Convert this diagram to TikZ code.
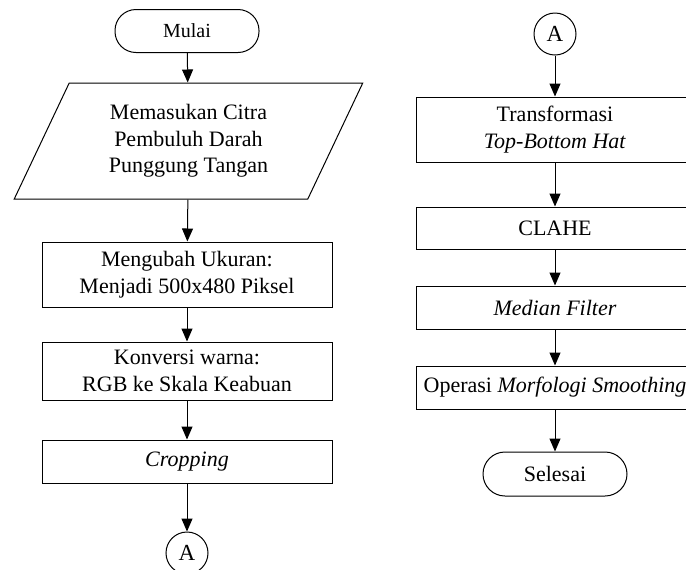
\documentclass[tikz,border=0pt]{standalone}
\usepackage{fontspec}
\setmainfont{Liberation Serif}
\usetikzlibrary{arrows.meta,positioning,shapes.geometric}
\tikzstyle{process}=[
  draw=black,
  rectangle,
  align=center,
  inner sep=0pt,
  line width=.5pt,
  font={\fontsize{11}{13.3}\selectfont},
]
\tikzstyle{terminal}=[
  draw=black,
  rectangle,
  rounded corners=10.5pt,
  inner sep=0pt,
  line width=.5pt,
  minimum width=72pt,
  minimum height=21.5pt,
]
\tikzstyle{io}=[
  draw=black,
  trapezium,
  trapezium left angle=63.4,
  trapezium right angle=116.6,
  trapezium stretches=true,
  align=center,
  inner sep=0pt,
  line width=.5pt,
  minimum width=174.5pt,
  minimum height=58pt,
  font={\fontsize{11}{13.3}\selectfont},
]
\tikzstyle{connector}=[
  draw=black,
  circle,
  inner sep=0pt,
  line width=.5pt,
  minimum size=21pt,
  font={\fontsize{11.5}{13}\selectfont},
]
\tikzstyle{arrow}=[
  draw=black,
  line width=.5pt,
]
\tikzset{
  >={Triangle[length=6.5pt,width=5.5pt]},
}
\begin{document}
\begin{tikzpicture}[x=.5pt, y=-.5pt]
  \clip (0,0) rectangle (686,569);
  %% left column
  \node (mulai) [terminal, font={\fontsize{10}{12}\selectfont}] at (187,31) {Mulai};
  \node (input) [io] at (188.5,141) {Memasukan Citra\\Pembuluh Darah\\Punggung Tangan};
  \node (resize) [process, minimum width=145pt, minimum height=32.5pt] at (187,274.5)
    {Mengubah Ukuran:\\Menjadi 500x480 Piksel};
  \node (gray) [process, minimum width=145pt, minimum height=29pt] at (187,371)
    {Konversi warna:\\RGB ke Skala Keabuan};
  \node (crop) [process, minimum width=145pt, minimum height=21.5pt] at (187,461.5)
    {\textit{Cropping}};
  \node (outA) [connector] at (187,553) {A};
  %% right column
  \node (inA) [connector] at (555,34) {A};
  \node (tophat) [process, minimum width=139pt, minimum height=32.5pt] at (555,129.5)
    {Transformasi\\\textit{Top-Bottom Hat}};
  \node (clahe) [process, minimum width=139pt, minimum height=21pt] at (555,228) {CLAHE};
  \node (median) [process, minimum width=139pt, minimum height=21.5pt] at (555,307.5)
    {\textit{Median Filter}};
  \node (morph) [process, minimum width=139pt, minimum height=21.5pt] at (555,387.5)
    {Operasi \textit{Morfologi Smoothing}};
  \node (selesai) [terminal, minimum height=22pt, rounded corners=11pt,
    font={\fontsize{11}{13}\selectfont}] at (555,474) {Selesai};
  %%
  \draw [->, arrow] (mulai) -- (input);
  \draw [->, arrow] (input) -- (resize);
  \draw [->, arrow] (resize) -- (gray);
  \draw [->, arrow] (gray) -- (crop);
  \draw [->, arrow] (crop) -- (outA);
  \draw [->, arrow] (inA) -- (tophat);
  \draw [->, arrow] (tophat) -- (clahe);
  \draw [->, arrow] (clahe) -- (median);
  \draw [->, arrow] (median) -- (morph);
  \draw [->, arrow] (morph) -- (selesai);
\end{tikzpicture}
\end{document}
